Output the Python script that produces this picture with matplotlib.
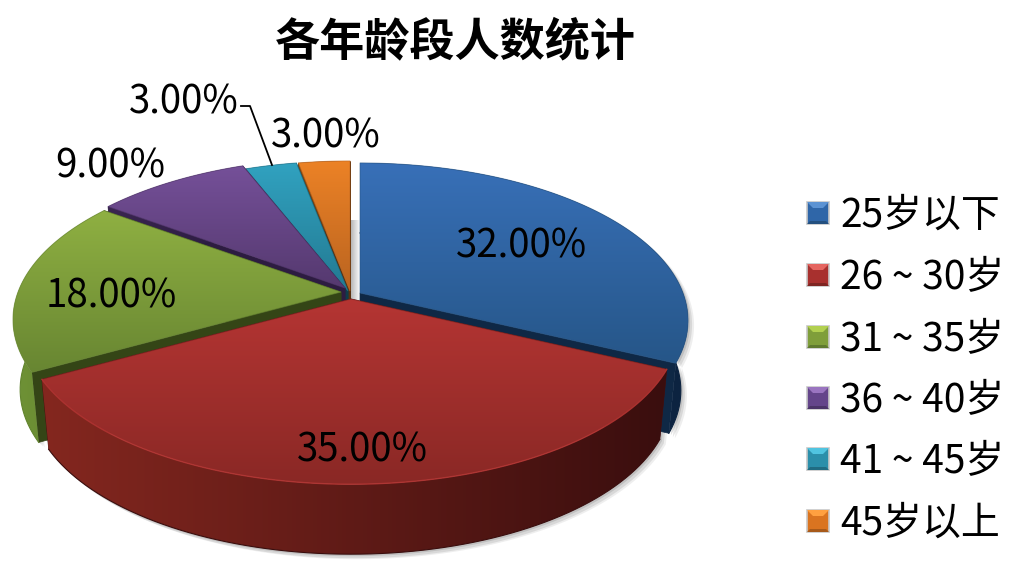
import numpy as np
import matplotlib
matplotlib.use('Agg')
import matplotlib.pyplot as plt
from matplotlib.patches import Polygon
from matplotlib.colors import to_rgb

plt.rcParams['font.family'] = ['Noto Sans CJK SC', 'DejaVu Sans']

# Data
categories = ['25岁以下', '26 ~ 30岁', '31 ~ 35岁', '36 ~ 40岁', '41 ~ 45岁', '45岁以上']
values = [32, 35, 18, 9, 3, 3]
value_labels = ['32.00%', '35.00%', '18.00%', '9.00%', '3.00%', '3.00%']

# Where each exploded slice has its tip, in picture pixels
tips = [(360, 293), (351, 299), (341, 292), (345, 288), (348, 291), (350, 291)]
label_pos = [(521, 247), (362, 450), (111, 297), (110, 166), (184, 103), (326, 136)]

# Colours: top of face, bottom of face, rim left, rim right, cut face
top_hi = ['#3870B8', '#B53533', '#8FB042', '#755099', '#31A2C0', '#EC8226']
top_lo = ['#265688', '#8A2825', '#688632', '#55396F', '#237A92', '#BA6420']
rim_l = ['#123056', '#84271F', '#6F9236', '#3A2650', '#1A5566', '#7A4512']
rim_r = ['#0C2340', '#3A0E0E', '#62842E', '#2A1A40', '#123F50', '#5A3410']
cut = ['#0F2845', '#451010', '#344516', '#2D1C41', '#0F3C4B', '#5A3210']
legend_hi = ['#5C93D3', '#E56560', '#B2D050', '#9A75C0', '#50C4E0', '#FFA040']
legend_mid = ['#2F66A8', '#A8302E', '#7F9E3A', '#64458A', '#2B8FAA', '#DA7420']
legend_lo = ['#24507F', '#7E2522', '#5F7A2E', '#4B3468', '#206C82', '#A85A1A']

# Perspective of the disc
A, B, K = 323.0, 152.8, 0.175
DEPTH = 70.0
BOTTOM_X = 0.978

fig = plt.figure(figsize=(10.2, 5.68), dpi=100)
ax = fig.add_axes([0, 0, 1, 1])


def project(theta, tip, r=1.0, low=False):
    u = r * np.cos(theta)
    v = r * np.sin(theta)
    s = 1 / (1 + K * v)
    x = A * u * s
    y = -B * v * s
    if low:
        x = x * BOTTOM_X
        y = y + DEPTH
    return np.column_stack([tip[0] + x, tip[1] + y])


def gradient_fill(pts, c0, c1, horizontal, z):
    # gradient image clipped by a polygon
    patch = Polygon(pts, closed=True, transform=ax.transData)
    x0, y0 = pts.min(axis=0)
    x1, y1 = pts.max(axis=0)
    t = np.linspace(0, 1, 128)[:, None]
    col = (1 - t) * np.array(to_rgb(c0)) + t * np.array(to_rgb(c1))
    img = col[None, :, :] if horizontal else col[:, None, :]
    im = ax.imshow(img, extent=(x0, x1, y1, y0), aspect='auto', zorder=z, interpolation='bilinear')
    im.set_clip_path(patch)
    return im


fractions = np.cumsum([0] + values) / sum(values)
angles = np.pi / 2 - 2 * np.pi * fractions

# soft shadow under the front slices
for i in [2, 1, 0]:
    arc = np.linspace(angles[i], angles[i + 1], 120)
    if i == 2:
        arc = np.linspace(angles[i], -np.pi * 1.05, 60)
    low = project(arc, tips[i], low=True)
    high = project(arc, tips[i])
    poly = np.vstack([high, low[::-1]])
    for dx, dy, a in [(6, 5, 0.10), (4, 4, 0.15), (2, 2, 0.2)]:
        ax.add_patch(Polygon(poly + [dx, dy], closed=True, fc='#606060', ec='none', alpha=a, zorder=1))

# shadow in the gap next to the blue slice
t = np.linspace(0, 1, 32)[None, :, None]
gap = (1 - t) * 0.72 + t * 0.99
gap = np.concatenate([gap, gap, gap], axis=2)
ax.imshow(gap, extent=(351, 360, 300, 220), aspect='auto', zorder=2)

# back to front
z = 3
for i in [5, 4, 3, 2, 0, 1]:
    arc = np.linspace(angles[i], angles[i + 1], 160)
    high = project(arc, tips[i])
    low = project(arc, tips[i], low=True)
    tip = np.array(tips[i], dtype=float)
    tip_low = project(np.array([0.0]), tips[i], r=0.0, low=True)[0]

    # the two cut faces
    for k in (0, -1):
        face = np.array([tip, high[k], low[k], tip_low])
        ax.add_patch(Polygon(face, closed=True, fc=cut[i], ec=cut[i], lw=0.5, zorder=z))
    z += 1

    # outer wall
    wall = np.vstack([high, low[::-1]])
    gradient_fill(wall, rim_l[i], rim_r[i], True, z)
    ax.plot(low[:, 0], low[:, 1], color=rim_r[i], lw=0.8, zorder=z)
    z += 1

    # top face
    top = np.vstack([tip, high])
    gradient_fill(top, top_hi[i], top_lo[i], False, z)
    z += 1
    ax.add_patch(Polygon(top, closed=True, fc='none', ec=top_lo[i], lw=0.7, alpha=0.6, zorder=z))
    if i == 1:
        ax.plot(high[:, 0], high[:, 1], color=top_hi[i], lw=1.0, alpha=0.8, zorder=z)
    z += 1

# leader line for the teal slice
ax.plot([241, 250, 272], [106, 106, 165], color='black', lw=1.3, zorder=z)
z += 1

for label, (x, y) in zip(value_labels, label_pos):
    ax.text(x, y, label, fontsize=27.7, color='black', ha='center', va='center', zorder=z)

ax.text(455, 42, '各年龄段人数统计', fontsize=32.5, fontweight='bold', color='black',
        ha='center', va='center', zorder=z)

# Legend, bevelled squares
legend_y = [213, 275, 337, 398, 459, 521]
for i, y in enumerate(legend_y):
    x0, x1 = 807, 829
    y0, y1 = y - 11, y + 11
    ax.add_patch(Polygon([(x0, y0), (x1, y0), (x1, y1), (x0, y1)], closed=True, fc=legend_mid[i],
                         ec='#C8C8C8', lw=1.2, zorder=z))
    ax.add_patch(Polygon([(x0, y0), (x1, y0), (x1 - 6, y0 + 6), (x0 + 6, y0 + 6)], closed=True,
                         fc=legend_hi[i], ec='none', zorder=z))
    ax.add_patch(Polygon([(x0, y1), (x1, y1), (x1 - 3, y1 - 3), (x0 + 3, y1 - 3)], closed=True,
                         fc=legend_lo[i], ec='none', zorder=z))
    ax.text(840, y + 3, categories[i], fontsize=28, color='black', ha='left', va='center', zorder=z)

ax.set_xlim(0, 1020)
ax.set_ylim(568, 0)
ax.axis('off')
fig.savefig('out.png', dpi=100, facecolor='white')
